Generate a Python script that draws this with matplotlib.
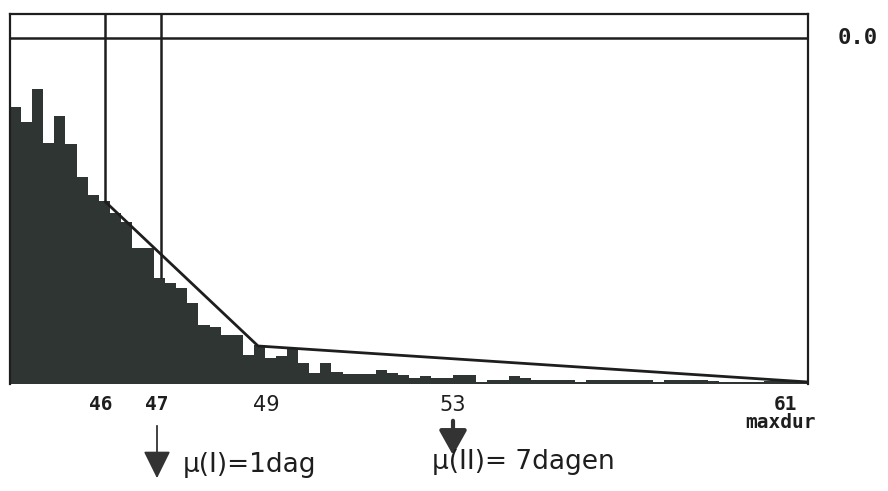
"""Histogram of maxdur with two fitted line segments and hand notes"""
from matplotlib import pyplot as plt

# bar heights per bin (72 bins)
counts = [277, 262, 295, 241, 268, 240, 207, 189, 183, 171,
          162, 136, 136, 106, 101, 96, 81, 59, 57, 49,
          49, 29, 39, 26, 28, 36, 21, 11, 21, 12,
          10, 10, 10, 14, 11, 9, 6, 8, 6, 6,
          9, 9, 2, 4, 4, 8, 6, 4, 4, 4,
          4, 2, 4, 4, 4, 4, 4, 4, 2, 4,
          4, 4, 4, 3, 2, 2, 2, 2, 3, 3,
          3, 3]
edges = list(range(len(counts) + 1))

# fitted segments (bin units, count units)
fit_x = [8.53, 22.38, 72.0]
fit_y = [183, 38, 2]

# marker lines and reference level
marker_x = [8.53, 13.62]
ref_level = 346

tick_labels = ['46', '47', '49', '53', '61']
tick_pos = [8.18, 13.26, 23.16, 39.97, 69.93]
handwritten = ['49', '53']

bar_color = '#2f3533'
ink = '#1e1e1e'

fig = plt.figure(figsize=(8.88, 4.91), dpi=100)
ax = fig.add_axes([10 / 888, 107 / 491, 798 / 888, 370 / 491])

ax.stairs(counts, edges, fill=True, color=bar_color, linewidth=0)
ax.plot(fit_x, fit_y, color=ink, linewidth=2.0, solid_capstyle='butt')
for mx in marker_x:
    ax.vlines(mx, counts[int(mx)], 370, color=ink, linewidth=1.8)
ax.axhline(ref_level, color=ink, linewidth=1.8)

ax.set_xlim(0, 72)
ax.set_ylim(0, 370)
ax.set_yticks([])
ax.set_xticks(tick_pos)
ax.set_xticklabels(tick_labels)
ax.tick_params(axis='x', length=0, pad=8)
for lab in ax.get_xticklabels():
    if lab.get_text() in handwritten:
        lab.set_fontfamily('DejaVu Sans')
        lab.set_fontweight('normal')
        lab.set_fontsize(15)
    else:
        lab.set_fontfamily('DejaVu Sans Mono')
        lab.set_fontweight('bold')
        lab.set_fontsize(14)
    lab.set_color(ink)

for side in ['left', 'top', 'right']:
    ax.spines[side].set_linewidth(1.6)
    ax.spines[side].set_color(ink)
ax.spines['bottom'].set_visible(False)

# printed labels outside the plot
fig.text(780 / 888, 1 - 423 / 491, 'maxdur', ha='center', va='center',
         family='DejaVu Sans Mono', weight='bold', fontsize=14, color=ink)
fig.text(838 / 888, 1 - 38 / 491, '0.0', ha='left', va='center',
         family='DejaVu Sans Mono', weight='bold', fontsize=16, color=ink)

# hand notes with arrows
ax.annotate('', xy=(157 / 888, 1 - 481 / 491), xytext=(157 / 888, 1 - 423 / 491),
            xycoords='figure fraction', textcoords='figure fraction',
            arrowprops=dict(arrowstyle='-|>,head_length=0.85,head_width=0.42',
                            mutation_scale=20, color='#333', linewidth=1.3))
ax.annotate('', xy=(453 / 888, 1 - 458 / 491), xytext=(453 / 888, 1 - 418 / 491),
            xycoords='figure fraction', textcoords='figure fraction',
            arrowprops=dict(arrowstyle='-|>,head_length=0.75,head_width=0.42',
                            mutation_scale=20, color='#333', linewidth=3))
fig.text(183 / 888, 1 - 465 / 491, 'μ(I)=1dag', ha='left', va='center',
         fontsize=19, color=ink)
fig.text(432 / 888, 1 - 462 / 491, 'μ(II)= 7dagen', ha='left', va='center',
         fontsize=19, color=ink)

fig.savefig('out.png', dpi=100)
